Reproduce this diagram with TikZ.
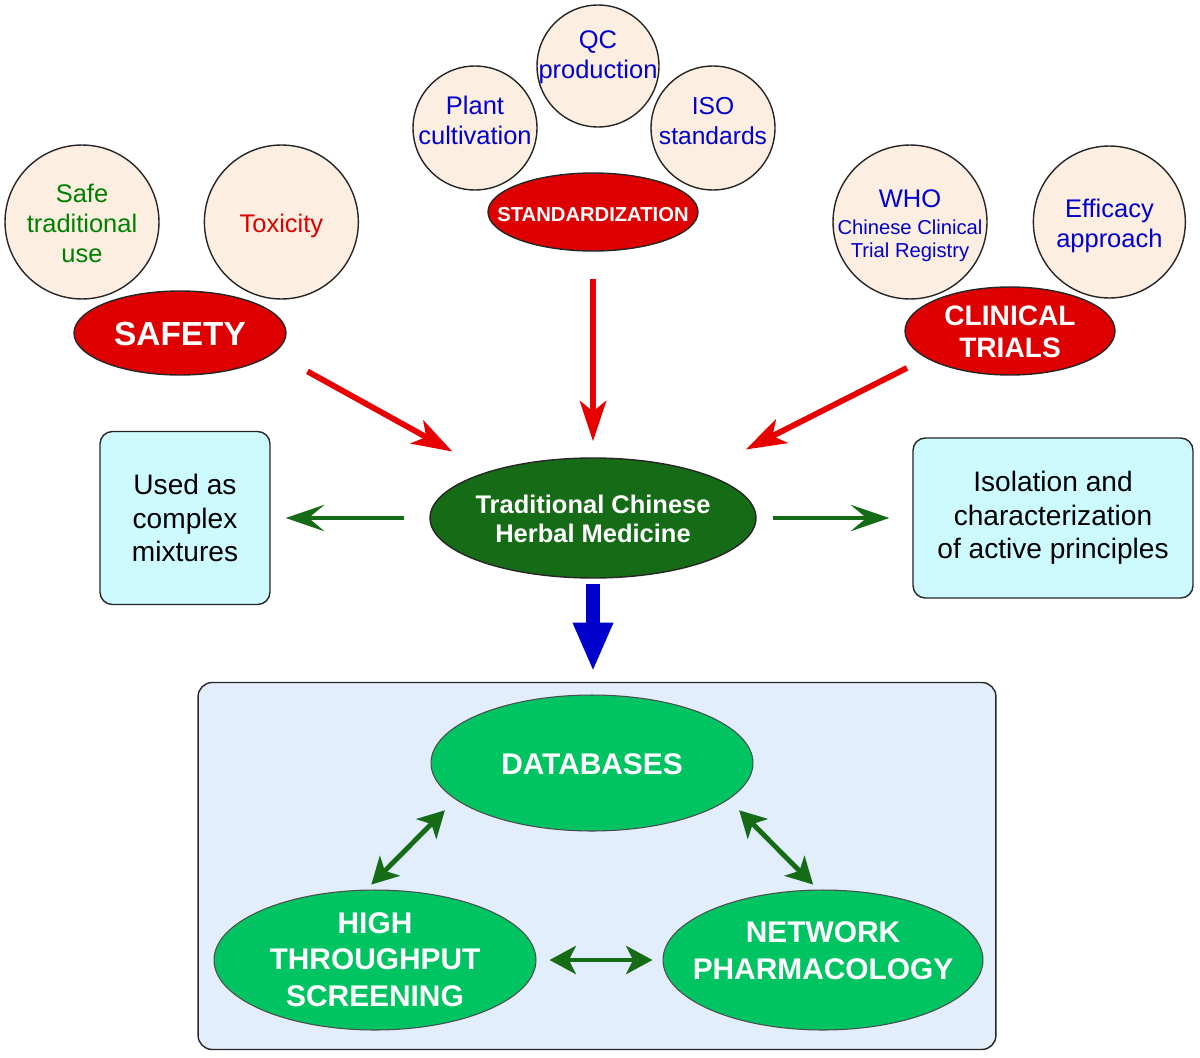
\documentclass[tikz,border=0pt]{standalone}
\usepackage{fontspec}
\setmainfont{Liberation Sans}
\usetikzlibrary{shapes.geometric,arrows.meta,positioning}

\definecolor{peach}{RGB}{252,238,224}
\definecolor{ovalred}{RGB}{222,0,0}
\definecolor{arrowred}{RGB}{232,0,0}
\definecolor{herbgreen}{RGB}{22,108,22}
\definecolor{brightgreen}{RGB}{0,196,98}
\definecolor{boxcyan}{RGB}{204,250,255}
\definecolor{panelblue}{RGB}{226,238,252}
\definecolor{textgreen}{RGB}{0,128,0}
\definecolor{textblue}{RGB}{0,0,204}
\definecolor{textred}{RGB}{220,0,0}
\definecolor{arrowblue}{RGB}{0,0,204}

% centred text that does not widen the shape (optional arg raises it)
\newcommand{\ctext}[2][0pt]{\raisebox{\dimexpr-0.25em-2.5pt+#1\relax}[0pt][0pt]{\makebox[0pt]{\begin{tabular}{@{}c@{}}#2\end{tabular}}}}

\begin{document}
\begin{tikzpicture}[x=0.02cm,y=-0.02cm,
    topic/.style={circle,draw=black!85,line width=0.8pt,fill=peach,inner sep=0pt,font=\fontsize{14.5}{17}\selectfont},
    redoval/.style={ellipse,draw=black!85,line width=0.8pt,fill=ovalred,inner sep=0pt,text=white},
    greenoval/.style={ellipse,draw=black!70,line width=0.6pt,fill=brightgreen,inner sep=0pt,text=white,font=\bfseries\fontsize{17}{21}\selectfont},
    infobox/.style={rectangle,rounded corners=7pt,draw=black!85,line width=0.8pt,fill=boxcyan,inner sep=0pt,align=center,font=\fontsize{16}{19}\selectfont},
    redarrow/.style={draw=arrowred,line width=3.3pt,-{Stealth[length=23pt,width=15pt,inset=6pt]}},
    greenarrow/.style={draw=herbgreen,line width=2.8pt,-{Stealth[length=22pt,width=15pt,inset=9pt]}},
    linkarrow/.style={draw=herbgreen,line width=2.8pt,{Stealth[length=15pt,width=16pt,inset=4pt]}-{Stealth[length=15pt,width=16pt,inset=4pt]}}]
    \useasboundingbox (0,0) rectangle (1200,1058);

    % safety
    \node[topic,minimum size=3.08cm,text=textgreen] (safe) at (82,222) {\ctext{Safe\\traditional\\use}};
    \node[topic,minimum size=3.08cm,text=textred] (tox) [right=0.88cm of safe] {\ctext{Toxicity}};
    \node[redoval,minimum width=4.24cm,minimum height=1.68cm,font=\bfseries\fontsize{19}{22}\selectfont] (safety) at (180,333) {\ctext{SAFETY}};

    % standardization
    \node[topic,minimum size=2.48cm,text=textblue] (plant) at (475,128) {\ctext[5pt]{Plant\\cultivation}};
    \node[topic,minimum size=2.44cm,text=textblue] (qc) at (598,66) {\ctext[7.3pt]{QC\\production}};
    \node[topic,minimum size=2.48cm,text=textblue,font=\fontsize{14}{17}\selectfont] (iso) at (713,128) {\ctext[5pt]{ISO\\standards}};
    \node[redoval,minimum width=4.2cm,minimum height=1.56cm,font=\bfseries\fontsize{11.5}{14}\selectfont] (std) at (593,212) {\ctext{STANDARDIZATION}};

    % clinical trials
    \node[topic,minimum size=3.08cm,text=textblue] (who) at (910,222) {\ctext{WHO\\[-1.5pt]{\fontsize{11.5}{12}\selectfont Chinese Clinical}\\[-4pt]{\fontsize{11.5}{12}\selectfont Trial Registry}}};
    \node[topic,minimum size=3.04cm,text=textblue] (eff) [right=0.9cm of who] {\ctext{Efficacy\\approach}};
    \node[redoval,minimum width=4.2cm,minimum height=1.76cm,font=\bfseries\fontsize{16}{18.5}\selectfont] (clin) at (1010,331) {\ctext{CLINICAL\\TRIALS}};

    % centre
    \node[ellipse,draw=black!85,line width=0.8pt,fill=herbgreen,inner sep=0pt,text=white,minimum width=6.52cm,minimum height=2.4cm,font=\bfseries\fontsize{14.5}{16.5}\selectfont] (tchm) at (593,518) {\ctext{Traditional Chinese\\Herbal Medicine}};
    \node[infobox,minimum width=3.4cm,minimum height=3.46cm] (mix) at (185,518) {Used as\\complex\\mixtures};
    \node[infobox,minimum width=5.6cm,minimum height=3.2cm] (isol) at (1053,518) {Isolation and\\characterization\\of active principles};

    % research panel
    \node[rectangle,rounded corners=8pt,draw=black!85,line width=0.8pt,fill=panelblue,minimum width=15.96cm,minimum height=7.34cm] (panel) at (597,866) {};
    \node[greenoval,minimum width=6.44cm,minimum height=2.72cm] (db) at (592,763) {\ctext{DATABASES}};
    \node[greenoval,minimum width=6.44cm,minimum height=2.8cm] (hts) at (375,960) {\ctext[1pt]{HIGH\\THROUGHPUT\\SCREENING}};
    \node[greenoval,minimum width=6.4cm,minimum height=2.8cm] (np) at (823,960) {\ctext[6pt]{NETWORK\\PHARMACOLOGY}};

    \draw[redarrow,shorten <=0.76cm,shorten >=0.82cm] (safety.-12) -- (tchm.156);
    \draw[redarrow,shorten <=0.54cm,shorten >=0.32cm] (std.south) -- (tchm.north);
    \draw[redarrow,shorten <=0.43cm,shorten >=1.01cm] (clin.198) -- (tchm.23);

    \draw[greenarrow,shorten <=0.5cm,shorten >=0.3cm] (tchm.west) -- (mix.east);
    \draw[greenarrow,shorten <=0.32cm,shorten >=0.46cm] (tchm.east) -- (isol.west);

    \draw[arrowblue,line width=8pt,-{Triangle[length=28pt,width=21pt]},shorten <=0.1cm,shorten >=0.2cm] (tchm.south) -- (tchm.south |- panel.north);

    \draw[linkarrow,shorten <=0.14cm,shorten >=0.3cm] (hts.97) -- (db.195);
    \draw[linkarrow,shorten <=0.3cm,shorten >=0.14cm] (db.345) -- (np.94);
    \draw[linkarrow,shorten <=0.26cm,shorten >=0.2cm] (hts.east) -- (np.west);
\end{tikzpicture}
\end{document}
